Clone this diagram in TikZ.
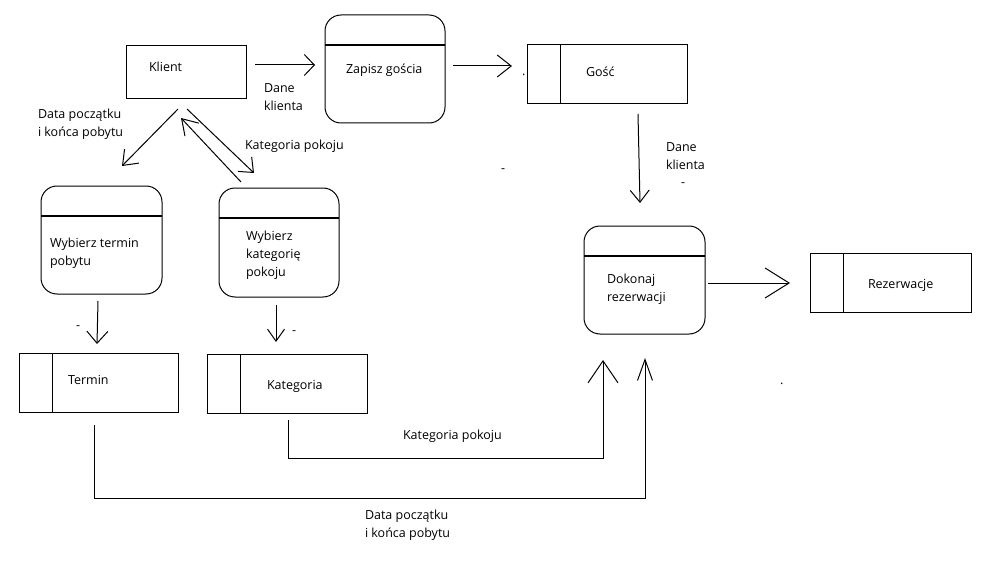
\documentclass[tikz,border=0pt]{standalone}
\usepackage{fontspec}
\setmainfont{Open Sans}
\usetikzlibrary{arrows.meta}
\tikzset{
  every node/.style={inner sep=0pt, outer sep=0pt},
  txt/.style={font=\fontsize{12.5}{18}\selectfont, anchor=base west, align=left},
  extbox/.style={draw, line width=1pt, minimum width=120pt, minimum height=53pt},
  procbox/.style 2 args={draw, line width=1pt, rounded corners=16pt,
     minimum width=#1pt, minimum height=#2pt,
     path picture={\draw[line width=2.2pt]
       ([yshift=-30pt]path picture bounding box.north west) --
       ([yshift=-30pt]path picture bounding box.north east);}},
  storebox/.style 2 args={draw, line width=1pt, minimum width=#1pt, minimum height=#2pt,
     path picture={\draw[line width=1pt]
       ([xshift=33pt]path picture bounding box.north west) --
       ([xshift=33pt]path picture bounding box.south west);}},
  arr/.style 2 args={line width=1pt, -{Straight Barb[length=#1pt,width=#2pt]}}
}
\begin{document}
\begin{tikzpicture}[x=1pt,y=-1pt]
\fill[white] (0,0) rectangle (984,564);
\useasboundingbox (0,0) rectangle (984,564);

% boxes
\node[extbox] (klient) at (186,72.5) {};
\node[procbox={120}{108}] (zapisz) at (385,69) {};
\node[storebox={160}{59}] (gosc) at (607,74.5) {};
\node[procbox={121}{108}] (dokonaj) at (644.5,280) {};
\node[storebox={161}{59}] (rezerw) at (890.5,282.5) {};
\node[procbox={121}{108}] (wterm) at (101.5,240) {};
\node[procbox={120}{109}] (wkat) at (279,242.5) {};
\node[storebox={159}{59}] (termin) at (98.5,382.5) {};
\node[storebox={160}{59}] (kateg) at (287,383.5) {};

% box texts (base = baseline of the last line)
\node[txt] (tklient) at (149,72) {Klient};
\node[txt] (tzapisz) at (346,74) {Zapisz gościa};
\node[txt] (tgosc) at (586,77) {Gość};
\node[txt] (tdokonaj) at (607,301) {Dokonaj\\rezerwacji};
\node[txt] (trezerw) at (868,288) {Rezerwacje};
\node[txt] (twterm) at (50,265) {Wybierz termin\\pobytu};
\node[txt] (twkat) at (246,276) {Wybierz\\kategorię\\pokoju};
\node[txt] (ttermin) at (68,384) {Termin};
\node[txt] (tkateg) at (267,389) {Kategoria};

% flow labels
\node[txt] (l1) at (264,111) {Dane\\klienta};
\node[txt] (l2) at (38,137) {Data początku\\i końca pobytu};
\node[txt] (l3) at (245,150) {Kategoria pokoju};
\node[txt] (l4) at (666,170) {Dane\\klienta};
\node[txt] (l5) at (403,439) {Kategoria pokoju};
\node[txt] (l6) at (365,537) {Data początku\\i końca pobytu};

% stray marks
\node[txt] (m1) at (76,329) {-};
\node[txt] (m2) at (292,334) {-};
\node[txt] (m3) at (501,173) {-};
\node[txt] (m4) at (681,186) {-};
\node[txt] (m5) at (522,76) {.};
\node[txt] (m6) at (780,384) {.};

% connector end points
\coordinate (a1s) at (255,65);  \coordinate (a1e) at (315,65);
\coordinate (a2s) at (453,66);  \coordinate (a2e) at (512,66);
\coordinate (a3s) at (638,114); \coordinate (a3e) at (640,203);
\coordinate (a4s) at (708,283); \coordinate (a4e) at (790,283);
\coordinate (a5s) at (178,109); \coordinate (a5e) at (122,166);
\coordinate (a6s) at (187,109); \coordinate (a6e) at (254,173);
\coordinate (a7s) at (241,182); \coordinate (a7e) at (181,118);
\coordinate (a8s) at (98,301);  \coordinate (a8e) at (97,344);
\coordinate (a9s) at (276,305); \coordinate (a9e) at (276,342);
\coordinate (a10s) at (288,420); \coordinate (a10e) at (603,360);
\coordinate (a11s) at (94,425);  \coordinate (a11e) at (645,358);

% connectors
\draw[arr={10}{21}] (a1s) -- (a1e);
\draw[arr={14}{22}] (a2s) -- (a2e);
\draw[arr={12}{19}] (a3s) -- (a3e);
\draw[arr={24}{30}] (a4s) -- (a4e);
\draw[arr={13}{20}] (a5s) -- (a5e);
\draw[arr={12}{20}] (a6s) -- (a6e);
\draw[arr={15}{19}] (a7s) -- (a7e);
\draw[arr={12}{21}] (a8s) -- (a8e);
\draw[arr={12}{17}] (a9s) -- (a9e);
\draw[arr={22}{30}] (a10s) -- ++(0,38) -| (a10e);
\draw[arr={21}{15}] (a11s) -- ++(0,73) -| (a11e);
\end{tikzpicture}
\end{document}
